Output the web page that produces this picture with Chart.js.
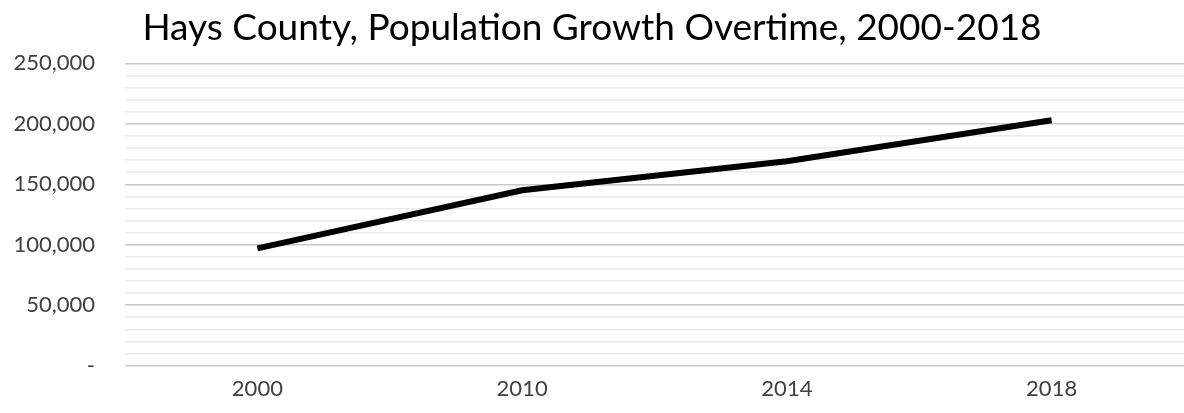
<!DOCTYPE html>
<html>
<head>
<meta charset="utf-8">
<script src="https://cdn.jsdelivr.net/npm/chart.js@4"></script>
<style>
    html, body { margin: 0; padding: 0; background: #fff; }
    #wrap { width: 1184px; height: 413px; }
</style>
</head>
<body>
<div id="wrap"><canvas id="popChart"></canvas></div>
<script>
// Hays County population
const years = ["2000", "2010", "2014", "2018"];
const population = [97000, 145000, 169000, 203000];
const yMax = 250000;
const yStep = 10000;
const yLabelStep = 50000;

function formatTick(value) {
    // minor ticks keep their grid line but get no label
    if (value % yLabelStep !== 0) return "";
    if (value === 0) return "-";
    return value.toLocaleString("en-US");
}

const ctx = document.getElementById("popChart").getContext("2d");
new Chart(ctx, {
    type: "line",
    data: {
        labels: years,
        datasets: [
            {
                label: "Population",
                data: population,
                borderColor: "#000000",
                borderWidth: 6,
                pointRadius: 0,
                tension: 0,
                borderCapStyle: "butt",
            },
        ],
    },
    options: {
        responsive: true,
        maintainAspectRatio: false,
        animation: false,
        layout: {
            padding: { top: 6, right: 0, bottom: 1, left: 0 },
        },
        plugins: {
            legend: { display: false },
            tooltip: { enabled: false },
            title: {
                display: true,
                text: "Hays County, Population Growth Overtime, 2000-2018",
                color: "#000000",
                font: { family: "Lato", size: 37, weight: "normal" },
                padding: { top: 0, bottom: 13 },
            },
        },
        scales: {
            x: {
                offset: true,
                grid: { display: false, drawTicks: false },
                border: { display: false },
                ticks: {
                    color: "#404040",
                    font: { family: "Lato", size: 22 },
                    padding: 10,
                    maxRotation: 0,
                },
            },
            y: {
                min: 0,
                max: yMax,
                afterFit(scale) {
                    scale.width = 125;
                },
                grid: {
                    drawTicks: false,
                    lineWidth: 1.5,
                    color: (c) => (c.tick && c.tick.value % yLabelStep === 0 ? "#c8c8c8" : "#ebebeb"),
                },
                border: { display: false },
                ticks: {
                    stepSize: yStep,
                    autoSkip: false,
                    color: "#404040",
                    font: { family: "Lato", size: 22 },
                    padding: 30,
                    callback: formatTick,
                },
            },
        },
    },
});
</script>
</body>
</html>
